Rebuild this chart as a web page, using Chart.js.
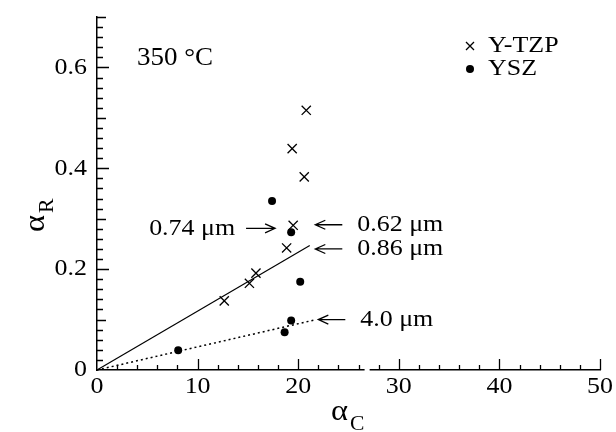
<!DOCTYPE html>
<html>
<head>
<meta charset="utf-8">
<script src="https://cdn.jsdelivr.net/npm/chart.js@4.4.0/dist/chart.umd.min.js"></script>
<style>
  html, body { margin: 0; padding: 0; background: #fff; }
  canvas { display: block; }
</style>
</head>
<body>
<canvas id="chart" width="616" height="432"></canvas>
<script>
// axis labels
const xTicks = [0, 10, 20, 30, 40, 50];
const yTicks = [0, 0.2, 0.4, 0.6];

// Y-TZP measurements (alpha_C, alpha_R)
const tzpAlphaC = [12.65, 15.15, 15.8, 18.85, 19.5, 20.6, 19.4, 20.8];
const tzpAlphaR = [0.137, 0.172, 0.192, 0.242, 0.287, 0.383, 0.439, 0.515];

// YSZ measurements
const yszAlphaC = [8.07, 18.65, 19.3, 20.2, 19.3, 17.4];
const yszAlphaR = [0.039, 0.075, 0.098, 0.175, 0.273, 0.335];

// trend lines through the origin
const tzpFitC = [0, 21.15];
const tzpFitR = [0, 0.247];
const yszFitC = [0, 21.8];
const yszFitR = [0, 0.1];

// grain-size notes: arrow tip in data units, arrow direction
const noteText = ["0.74 μm", "0.62 μm", "0.86 μm", "4.0 μm"];
const noteTipC = [17.7, 21.7, 21.7, 22.0];
const noteTipR = [0.281, 0.288, 0.240, 0.100];
const noteDir = ["right", "left", "left", "left"];

const SERIF = '"Liberation Serif", "Times New Roman", serif';
const AREA = { left: 97, top: 17, right: 600, bottom: 370 };

function pairs(xs, ys) {
  return xs.map((x, i) => ({ x, y: ys[i] }));
}

// text slightly widened, like the old typeset lettering
function label(ctx, s, x, y, align) {
  const sx = 1.08;
  const w = ctx.measureText(s).width * sx;
  let left = x;
  if (align === "right") left = x - w;
  else if (align === "center") left = x - w / 2;
  ctx.save();
  ctx.translate(left, y);
  ctx.scale(sx, 1);
  ctx.textAlign = "left";
  ctx.fillText(s, 0, 0);
  ctx.restore();
}

function arrow(ctx, x1, x2, y) {
  // open arrowhead at x2
  const d = x2 > x1 ? -1 : 1;
  ctx.beginPath();
  ctx.moveTo(x1, y);
  ctx.lineTo(x2, y);
  ctx.moveTo(x2 + d * 10, y - 4.5);
  ctx.lineTo(x2, y);
  ctx.lineTo(x2 + d * 10, y + 4.5);
  ctx.stroke();
}

const decor = {
  id: "decor",
  afterDraw(chart) {
    const { ctx, scales: { x, y } } = chart;
    ctx.save();
    ctx.strokeStyle = "#000";
    ctx.fillStyle = "#000";
    ctx.lineWidth = 1.3;

    // inward ticks
    const y0 = y.getPixelForValue(0);
    const x0 = x.getPixelForValue(0);
    ctx.beginPath();
    for (let v = 2; v <= 50; v += 2) {
      const px = Math.round(x.getPixelForValue(v)) + 0.5;
      const len = v % 10 === 0 ? 11 : 5;
      ctx.moveTo(px, y0);
      ctx.lineTo(px, y0 - len);
    }
    for (let k = 1; k <= 35; k++) {
      const py = Math.round(y.getPixelForValue(k * 0.02)) + 0.5;
      const len = k % 10 === 0 ? 12 : (k % 5 === 0 ? 9 : 6);
      ctx.moveTo(x0, py);
      ctx.lineTo(x0 + len, py);
    }
    ctx.stroke();

    // break in the bottom axis line
    ctx.fillStyle = "#fff";
    const g1 = x.getPixelForValue(26.6), g2 = x.getPixelForValue(27.1);
    ctx.fillRect(g1, y0 - 1.5, g2 - g1, 3);
    ctx.fillStyle = "#000";

    // tick labels
    ctx.font = "24px " + SERIF;
    ctx.textBaseline = "middle";
    xTicks.forEach((v) => label(ctx, String(v), x.getPixelForValue(v), y0 + 17, "center"));
    yTicks.forEach((v) => label(ctx, v === 0 ? "0" : v.toFixed(1), x0 - 10, y.getPixelForValue(v), "right"));

    // axis titles
    ctx.textBaseline = "alphabetic";
    ctx.font = "30px " + SERIF;
    label(ctx, "α", 331, 420, "left");
    ctx.font = "20px " + SERIF;
    label(ctx, "C", 350, 430, "left");

    ctx.save();
    ctx.translate(44, 232);
    ctx.rotate(-Math.PI / 2);
    ctx.font = "30px " + SERIF;
    label(ctx, "α", 0, 0, "left");
    ctx.font = "20px " + SERIF;
    label(ctx, "R", 19, 9, "left");
    ctx.restore();

    // temperature
    ctx.font = "25px " + SERIF;
    ctx.textBaseline = "middle";
    label(ctx, "350 °C", 137, 58, "left");

    // legend
    ctx.font = "24px " + SERIF;
    label(ctx, "Y-TZP", 488, 46, "left");
    label(ctx, "YSZ", 488, 69, "left");
    ctx.beginPath();
    ctx.moveTo(466, 42); ctx.lineTo(474, 50);
    ctx.moveTo(474, 42); ctx.lineTo(466, 50);
    ctx.stroke();
    ctx.beginPath();
    ctx.arc(470, 69, 4, 0, Math.PI * 2);
    ctx.fill();

    // grain-size notes
    noteText.forEach((t, i) => {
      const tx = x.getPixelForValue(noteTipC[i]);
      const ty = y.getPixelForValue(noteTipR[i]);
      if (noteDir[i] === "right") {
        arrow(ctx, tx - 29, tx, ty);
        label(ctx, t, tx - 40, ty, "right");
      } else {
        arrow(ctx, tx + 27, tx, ty);
        label(ctx, t, tx + 42, ty, "left");
      }
    });
    ctx.restore();
  }
};

const chart = new Chart(document.getElementById("chart"), {
  type: "scatter",
  data: {
    datasets: [
      {
        label: "Y-TZP",
        data: pairs(tzpAlphaC, tzpAlphaR),
        pointStyle: "crossRot",
        pointRadius: 6.5,
        borderColor: "#000",
        borderWidth: 1.3
      },
      {
        label: "YSZ",
        data: pairs(yszAlphaC, yszAlphaR),
        pointStyle: "circle",
        pointRadius: 4,
        backgroundColor: "#000",
        borderColor: "#000",
        borderWidth: 0
      },
      {
        label: "Y-TZP fit",
        data: pairs(tzpFitC, tzpFitR),
        showLine: true,
        pointRadius: 0,
        borderColor: "#000",
        borderWidth: 1.2,
        clip: false
      },
      {
        label: "YSZ fit",
        data: pairs(yszFitC, yszFitR),
        showLine: true,
        pointRadius: 0,
        borderColor: "#000",
        borderWidth: 1.5,
        borderDash: [2, 3],
        clip: false
      }
    ]
  },
  options: {
    responsive: false,
    animation: false,
    layout: { padding: { top: AREA.top, right: 616 - AREA.right, left: AREA.left, bottom: 432 - AREA.bottom } },
    plugins: { legend: { display: false }, tooltip: { enabled: false } },
    scales: {
      x: {
        type: "linear",
        min: 0,
        max: 50,
        grid: { display: false, drawTicks: false },
        border: { display: true, color: "#000", width: 1.5 },
        ticks: { display: false }
      },
      y: {
        type: "linear",
        min: 0,
        max: 0.7,
        grid: { display: false, drawTicks: false },
        border: { display: true, color: "#000", width: 1.5 },
        ticks: { display: false }
      }
    }
  },
  plugins: [decor]
});

// nudge the padding so the plot area lands on AREA
const ca = chart.chartArea;
const pad = chart.options.layout.padding;
pad.left += AREA.left - ca.left;
pad.top += AREA.top - ca.top;
pad.right += ca.right - AREA.right;
pad.bottom += ca.bottom - AREA.bottom;
chart.update();
</script>
</body>
</html>
